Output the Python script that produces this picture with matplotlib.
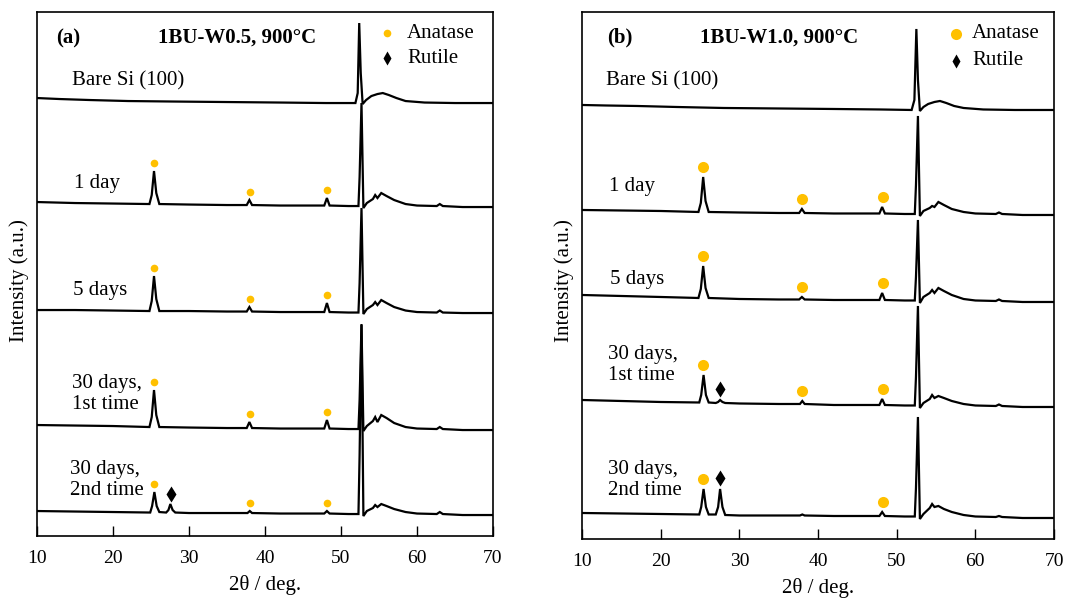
import matplotlib
matplotlib.use('Agg')
import matplotlib.pyplot as plt
import numpy as np

plt.rcParams['font.family'] = ['Liberation Serif', 'DejaVu Serif']

# ---------------- data ----------------
sample_labels = ["Bare Si (100)", "1 day", "5 days", "30 days,\n1st time", "30 days,\n2nd time"]

# common 2theta grids (deg)
x_bare_a = [10, 13, 17, 22, 28, 35, 42, 48, 51.9, 52.2, 52.4, 52.6, 52.85, 53.3, 54.0, 54.8, 55.5, 56.3, 57.3, 58.5, 61, 65, 70]
x_bare_b = [10, 13, 17, 22, 28, 35, 42, 48, 51.9, 52.25, 52.5, 52.7, 52.95, 53.4, 54.0, 54.8, 55.5, 56.3, 57.3, 58.5, 61, 65, 70]
x_anat = [10, 15, 20, 24.8, 25.1, 25.4, 25.7, 26.1, 30, 35, 37.6, 37.95, 38.3, 42, 47.8, 48.15, 48.5, 51,
          52.3, 52.45, 52.7, 52.95, 53.4, 54.2, 54.5, 54.8, 55.3, 56, 57, 58.5, 60, 62.6, 63, 63.4, 66, 70]
x_rut = [10, 15, 20, 24.9, 25.15, 25.45, 25.75, 26.1, 27.0, 27.3, 27.55, 27.85, 28.2, 30, 35, 37.7, 38.0, 38.3, 42,
         47.8, 48.15, 48.5, 51, 52.3, 52.45, 52.7, 52.95, 53.4, 54.2, 54.5, 54.8, 55.3, 56, 57, 58.5, 60,
         62.6, 63, 63.4, 66, 70]

# panel (a): 1BU-W0.5 intensities (a.u., relative to each pattern's baseline)
a_bare = [5, 4, 3, 2, 1.5, 1, 0.5, 0, 0, 10, 80, 30, -1, 3, 7, 9, 10, 8, 5, 2, 0.5, 0, 0]
a_1day = [5, 4, 3.5, 3, 12, 36, 14, 3, 2.5, 2, 2, 7, 2, 1.5, 1.5, 9, 1.5, 1, 1, 30, 104, -1, 4, 8, 12, 9, 14, 11, 7, 3, 1.5, 1, 3, 1, 0, 0]
a_5day = [3, 3, 2.5, 2, 12, 37, 14, 2, 2, 1.5, 1.5, 6, 1.5, 1, 1, 10, 1, 0.5, 0.5, 30, 105, -1, 4, 8, 11, 8, 13, 10, 6, 2.5, 1, 0.5, 2.5, 0.5, 0, 0]
a_30d1 = [5, 4.5, 4, 3, 13, 40, 15, 3, 2.5, 2, 2, 8, 2, 1.5, 1.5, 10, 1.5, 1, 1, 30, 106, -1, 4, 9, 13, 8, 15, 12, 7, 3, 1.5, 1, 3, 1, 0, 0]
a_30d2 = [4, 3.5, 3, 2.5, 9, 23, 9, 3, 2.5, 5, 11, 5, 2.5, 2, 2, 2, 4, 2, 1.5, 1.5, 4, 1.5, 1, 1, 60, 190, -1,
          4, 7, 10, 8, 11, 9, 6, 3, 1.5, 1, 3, 1, 0, 0]

# panel (b): 1BU-W1.0
b_bare = [5, 4.5, 4, 3, 2, 1.5, 1, 0.5, 0, 10, 81, 30, -1, 3, 6, 8, 9, 7, 4, 2, 0.5, 0, 0]
b_1day = [5, 4.5, 4, 3, 12, 38, 14, 3, 2.5, 2, 2, 6, 2, 1.5, 1.5, 8, 1.5, 1, 1, 30, 99, -1, 4, 7, 9, 8, 13, 10, 6, 3, 1.5, 1, 2.5, 1, 0, 0]
b_5day = [7, 6, 5, 4, 13, 36, 14, 4, 3, 2.5, 2.5, 5, 2.5, 2, 2, 9, 2, 1.5, 1.5, 25, 82, -1, 5, 9, 12, 9, 14, 11, 7, 3, 1.5, 1, 2.5, 1, 0, 0]
b_30d1 = [7, 6, 5, 4.5, 12, 32, 12, 4.5, 4, 5, 7, 5, 4, 3.5, 3, 3, 6, 3, 2, 2, 8, 2, 1.5, 1.5, 30, 101, -1,
          4, 8, 12, 9, 11, 9, 6, 3, 1.5, 1, 2.5, 1, 0, 0]
b_30d2 = [5, 4.5, 4, 3.5, 11, 29, 11, 3.5, 3.5, 11, 29, 11, 3, 2.5, 2.5, 2.5, 3.5, 2.5, 2, 2, 6, 2, 1.5, 1.5, 30, 101, -1,
          4, 10, 14, 11, 12, 9, 6, 3, 1.5, 1, 2, 1, 0, 0]

# vertical stacking offsets of the patterns (a.u.)
offsets_a = [433, 329, 223, 106, 21]
offsets_b = [429, 324, 237, 132, 21]

# marked reflections per pattern: (2theta, phase)  A = anatase, R = rutile
marks_a = [[], [(25.4, 'A'), (38.0, 'A'), (48.2, 'A')], [(25.4, 'A'), (38.0, 'A'), (48.2, 'A')],
           [(25.4, 'A'), (38.0, 'A'), (48.2, 'A')], [(25.4, 'A'), (27.7, 'R'), (38.0, 'A'), (48.2, 'A')]]
marks_b = [[], [(25.4, 'A'), (38.0, 'A'), (48.2, 'A')], [(25.4, 'A'), (38.0, 'A'), (48.2, 'A')],
           [(25.4, 'A'), (27.6, 'R'), (38.0, 'A'), (48.2, 'A')], [(25.4, 'A'), (27.6, 'R'), (48.2, 'A')]]

xs_a = [x_bare_a, x_anat, x_anat, x_anat, x_rut]
ys_a = [a_bare, a_1day, a_5day, a_30d1, a_30d2]
xs_b = [x_bare_b, x_anat, x_anat, x_rut, x_rut]
ys_b = [b_bare, b_1day, b_5day, b_30d1, b_30d2]

ANAT = '#FFC000'

fig = plt.figure(figsize=(10.65, 6.05), dpi=100)
axa = fig.add_axes([0.0347, 0.1140, 0.4282, 0.8661])
axb = fig.add_axes([0.5465, 0.1091, 0.4432, 0.8711])


def draw(ax, xs, ys, offs, marks, ylim, ms_a, ms_r, gap, lab_pos, tag, title, tag_pos, title_pos, leg_pos):
    for x, y, o, mk in zip(xs, ys, offs, marks):
        x = np.asarray(x, float)
        y = np.asarray(y, float) + o
        ax.plot(x, y, color='black', lw=1.6, solid_joinstyle='miter')
        for px, ph in mk:
            sel = np.abs(x - px) <= 0.45
            top = y[sel].max()
            if ph == 'A':
                ax.plot(px, top + gap, 'o', color=ANAT, ms=ms_a, mec='none')
            else:
                ax.plot(px, top + gap + 1.5, 'd', color='black', ms=ms_r, mec='none')
    for lab, (lx, ly) in zip(sample_labels, lab_pos):
        ax.text(lx, ly, lab, fontsize=15, ha='left', va='center', linespacing=1.1)
    ax.text(tag_pos[0], tag_pos[1], tag, fontsize=15, fontweight='bold', ha='center', va='center')
    ax.text(title_pos[0], title_pos[1], title, fontsize=15, fontweight='bold', ha='left', va='center')
    mx, tx, y1, y2 = leg_pos
    ax.plot(mx, y1, 'o', color=ANAT, ms=ms_a, mec='none')
    ax.text(tx, y1, 'Anatase', fontsize=15, ha='left', va='center')
    ax.plot(mx, y2, 'd', color='black', ms=ms_r - 1, mec='none')
    ax.text(tx, y2, 'Rutile', fontsize=15, ha='left', va='center')

    ax.set_xlim(10, 70)
    ax.set_ylim(0, ylim)
    ax.set_xticks([10, 20, 30, 40, 50, 60, 70])
    ax.set_yticks([])
    ax.tick_params(axis='x', direction='in', length=7, width=1.0, labelsize=14, pad=10)
    for s in ax.spines.values():
        s.set_linewidth(1.2)
    ax.set_xlabel('2θ / deg.', fontsize=15, labelpad=6)


draw(axa, xs_a, ys_a, offsets_a, marks_a, 524, 5.5, 8, 8.5,
     [(14.6, 455), (14.9, 353), (14.7, 246), (14.6, 142), (14.3, 56)],
     '(a)', '1BU-W0.5, 900°C', (14.1, 498), (25.9, 498), (56.05, 58.7, 503, 478))
draw(axb, xs_b, ys_b, offsets_b, marks_b, 527, 8, 8, 9.5,
     [(13.05, 458), (13.4, 352), (13.6, 259), (13.3, 174), (13.3, 59)],
     '(b)', '1BU-W1.0, 900°C', (14.8, 501), (25.0, 501), (57.5, 59.6, 505, 478))

fig.text(0.0178, 0.537, 'Intensity (a.u.)', rotation=90, fontsize=15, ha='center', va='center')
fig.text(0.5296, 0.537, 'Intensity (a.u.)', rotation=90, fontsize=15, ha='center', va='center')

fig.savefig('out.png', dpi=100)
